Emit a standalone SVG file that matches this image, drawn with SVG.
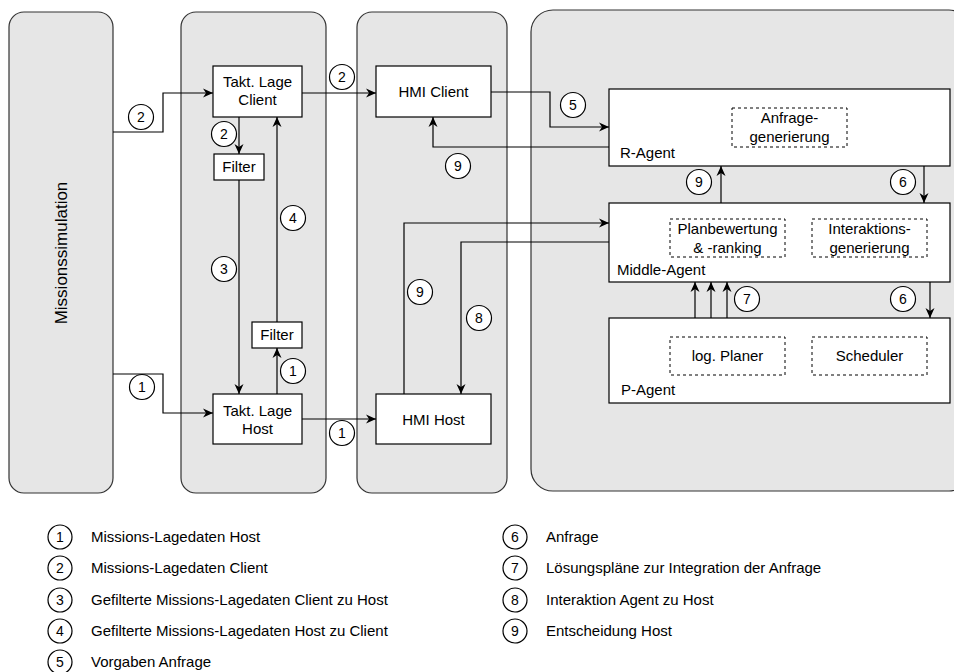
<svg xmlns="http://www.w3.org/2000/svg" width="954" height="672" viewBox="0 0 954 672">
  <style>
    text { font-family: "Liberation Sans", Arial, sans-serif; fill: #000; }
    .lane { fill: #e6e6e6; stroke: #333; stroke-width: 1.2; }
    .box { fill: #fff; stroke: #000; stroke-width: 1.2; }
    .sub { fill: none; stroke: #000; stroke-width: 1; stroke-dasharray: 3 3; }
    .lbl { font-size: 15px; text-anchor: middle; }
    .agent { font-size: 15px; }
    .edge { fill: none; stroke: #000; stroke-width: 1.2; }
    .arr { marker-end: url(#arrow); }
    .num circle { fill: #fff; stroke: #000; stroke-width: 1.2; }
    .num text { font-size: 14px; text-anchor: middle; }
    .num text.t { font-size: 15px; text-anchor: start; }
  </style>
  <defs>
    <marker id="arrow" viewBox="0 0 10 10" refX="10" refY="5" markerWidth="10" markerHeight="10" markerUnits="userSpaceOnUse" orient="auto">
      <path d="M0,0.5 L10,5 L0,9.5 L3,5 z" fill="#000"/>
    </marker>
  </defs>

  <!-- swimlanes -->
  <g id="lane-sim">
    <rect class="lane" x="9" y="12" width="104" height="481" rx="15"/>
    <text font-size="17" text-anchor="middle" transform="translate(67,253) rotate(-90)">Missionssimulation</text>
  </g>
  <g id="lane-takt"><rect class="lane" x="181" y="12" width="145" height="481" rx="15"/></g>
  <g id="lane-hmi"><rect class="lane" x="357" y="12" width="150" height="481" rx="15"/></g>
  <g id="lane-agents"><rect class="lane" x="531" y="10" width="440" height="481" rx="22"/></g>

  <!-- nodes -->
  <g id="takt-client">
    <rect class="box" x="213" y="66" width="89" height="51"/>
    <text class="lbl" x="257.5" y="87">Takt. Lage</text>
    <text class="lbl" x="257.5" y="105">Client</text>
  </g>
  <g id="filter-client">
    <rect class="box" x="214" y="154" width="50" height="26"/>
    <text class="lbl" x="239" y="172">Filter</text>
  </g>
  <g id="filter-host">
    <rect class="box" x="252" y="322" width="50" height="26"/>
    <text class="lbl" x="277" y="340">Filter</text>
  </g>
  <g id="takt-host">
    <rect class="box" x="213" y="394" width="89" height="50"/>
    <text class="lbl" x="257.5" y="416">Takt. Lage</text>
    <text class="lbl" x="257.5" y="434">Host</text>
  </g>
  <g id="hmi-client">
    <rect class="box" x="376" y="66" width="115" height="51"/>
    <text class="lbl" x="433.5" y="97">HMI Client</text>
  </g>
  <g id="hmi-host">
    <rect class="box" x="376" y="394" width="115" height="50"/>
    <text class="lbl" x="433.5" y="425">HMI Host</text>
  </g>
  <g id="r-agent">
    <rect class="box" x="609" y="89" width="341" height="77"/>
    <rect class="sub" x="732" y="108" width="115" height="39"/>
    <text class="lbl" x="789.5" y="123">Anfrage-</text>
    <text class="lbl" x="789.5" y="142">generierung</text>
    <text class="agent" x="620" y="158">R-Agent</text>
  </g>
  <g id="middle-agent">
    <rect class="box" x="609" y="203" width="341" height="79"/>
    <rect class="sub" x="670" y="219" width="115" height="38"/>
    <text class="lbl" x="727.5" y="234">Planbewertung</text>
    <text class="lbl" x="727.5" y="253">&amp; -ranking</text>
    <rect class="sub" x="812" y="219" width="115" height="38"/>
    <text class="lbl" x="869.5" y="234">Interaktions-</text>
    <text class="lbl" x="869.5" y="253">generierung</text>
    <text class="agent" x="617" y="275">Middle-Agent</text>
  </g>
  <g id="p-agent">
    <rect class="box" x="609" y="318" width="341" height="85"/>
    <rect class="sub" x="670" y="337" width="115" height="38"/>
    <text class="lbl" x="727.5" y="361">log. Planer</text>
    <rect class="sub" x="812" y="337" width="115" height="38"/>
    <text class="lbl" x="869.5" y="361">Scheduler</text>
    <text class="agent" x="621" y="395">P-Agent</text>
  </g>

  <!-- connectors -->
  <g id="connectors">
    <path class="edge arr" d="M113,132 H163 V93 H213"/>
    <path class="edge arr" d="M239,117 V154"/>
    <path class="edge arr" d="M239,180 V394"/>
    <path class="edge arr" d="M277,394 V348"/>
    <path class="edge arr" d="M277,322 V117"/>
    <path class="edge arr" d="M113,374 H163 V413 H213"/>
    <path class="edge arr" d="M302,93 H376"/>
    <path class="edge arr" d="M302,419 H376"/>
    <path class="edge arr" d="M491,92 H550 V127 H609"/>
    <path class="edge arr" d="M609,147 H433 V117"/>
    <path class="edge arr" d="M404,394 V223 H609"/>
    <path class="edge arr" d="M609,242 H461 V394"/>
    <path class="edge arr" d="M721,203 V166"/>
    <path class="edge arr" d="M924,166 V203"/>
    <path class="edge arr" d="M695,318 V282"/>
    <path class="edge arr" d="M711,318 V282"/>
    <path class="edge arr" d="M727,318 V282"/>
    <path class="edge arr" d="M930,282 V318"/>

    <!-- numbered flow markers -->
    <g class="num">
      <g transform="translate(141,117)"><circle r="12.5"/><text y="5">2</text></g>
      <g transform="translate(224,134)"><circle r="12.5"/><text y="5">2</text></g>
      <g transform="translate(224,269)"><circle r="12.5"/><text y="5">3</text></g>
      <g transform="translate(293,371)"><circle r="12.5"/><text y="5">1</text></g>
      <g transform="translate(293,218)"><circle r="12.5"/><text y="5">4</text></g>
      <g transform="translate(142,387)"><circle r="12.5"/><text y="5">1</text></g>
      <g transform="translate(342,77)"><circle r="12.5"/><text y="5">2</text></g>
      <g transform="translate(342,433)"><circle r="12.5"/><text y="5">1</text></g>
      <g transform="translate(573,105)"><circle r="12.5"/><text y="5">5</text></g>
      <g transform="translate(458,166)"><circle r="12.5"/><text y="5">9</text></g>
      <g transform="translate(420,292)"><circle r="12.5"/><text y="5">9</text></g>
      <g transform="translate(479,318)"><circle r="12.5"/><text y="5">8</text></g>
      <g transform="translate(699,182)"><circle r="12.5"/><text y="5">9</text></g>
      <g transform="translate(903,182)"><circle r="12.5"/><text y="5">6</text></g>
      <g transform="translate(747,299)"><circle r="12.5"/><text y="5">7</text></g>
      <g transform="translate(903,299)"><circle r="12.5"/><text y="5">6</text></g>
    </g>
  </g>

  <!-- legend -->
  <g id="legend" class="num">
    <g transform="translate(60,537)"><circle r="12"/><text y="5">1</text><text class="t" x="31" y="5">Missions-Lagedaten Host</text></g>
    <g transform="translate(60,568)"><circle r="12"/><text y="5">2</text><text class="t" x="31" y="5">Missions-Lagedaten Client</text></g>
    <g transform="translate(60,600)"><circle r="12"/><text y="5">3</text><text class="t" x="31" y="5">Gefilterte Missions-Lagedaten Client zu Host</text></g>
    <g transform="translate(60,631)"><circle r="12"/><text y="5">4</text><text class="t" x="31" y="5">Gefilterte Missions-Lagedaten Host zu Client</text></g>
    <g transform="translate(60,662)"><circle r="12"/><text y="5">5</text><text class="t" x="31" y="5">Vorgaben Anfrage</text></g>
    <g transform="translate(515,537)"><circle r="12"/><text y="5">6</text><text class="t" x="31" y="5">Anfrage</text></g>
    <g transform="translate(515,568)"><circle r="12"/><text y="5">7</text><text class="t" x="31" y="5">Lösungspläne zur Integration der Anfrage</text></g>
    <g transform="translate(515,600)"><circle r="12"/><text y="5">8</text><text class="t" x="31" y="5">Interaktion Agent zu Host</text></g>
    <g transform="translate(515,631)"><circle r="12"/><text y="5">9</text><text class="t" x="31" y="5">Entscheidung Host</text></g>
  </g>
</svg>
